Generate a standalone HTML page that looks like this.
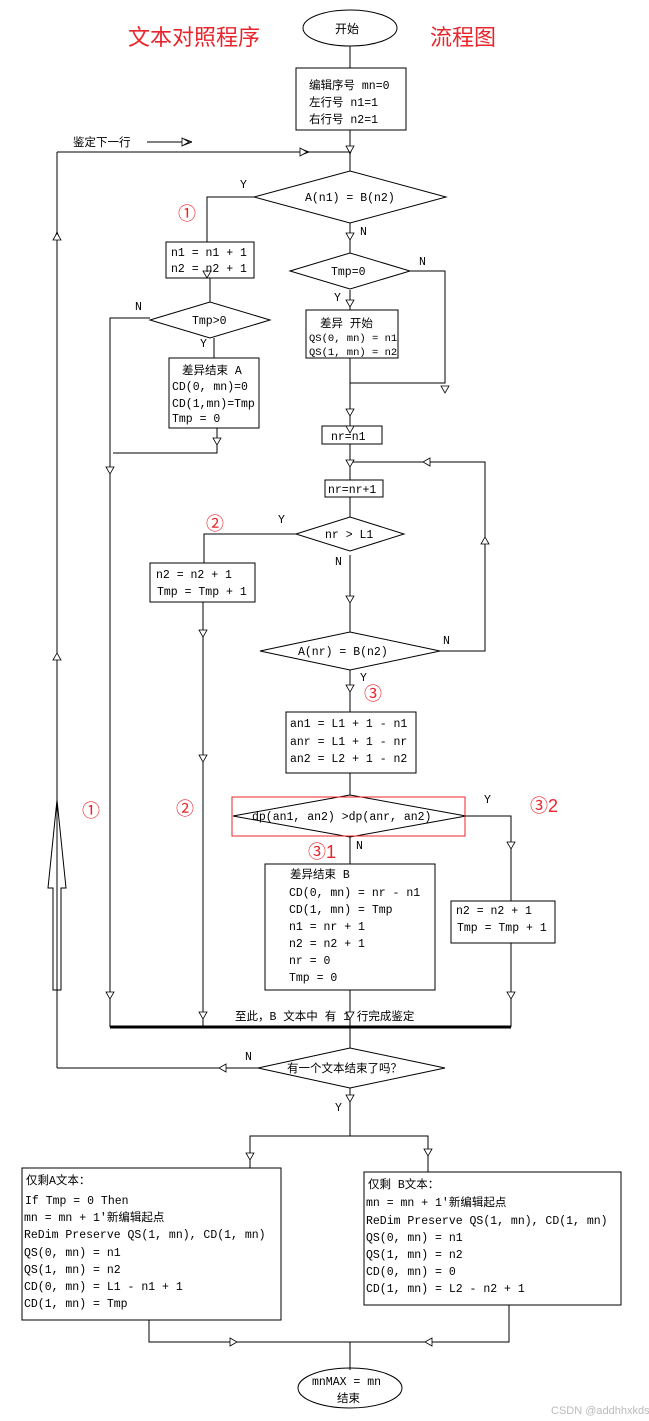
<!DOCTYPE html>
<html><head><meta charset="utf-8">
<style>
html,body{margin:0;padding:0;background:#fff;}
svg{display:block;}
text{font-family:"Liberation Mono","Noto Sans CJK SC",monospace;font-size:11.5px;fill:#000;}
.r{fill:#e8242c;font-family:"Liberation Sans","Noto Sans CJK SC",sans-serif;}
</style></head><body>
<svg width="649" height="1421" viewBox="0 0 649 1421" xmlns="http://www.w3.org/2000/svg">
<defs>
<marker id="a" markerWidth="8" markerHeight="8" refX="4" refY="4" orient="auto" markerUnits="userSpaceOnUse">
<path d="M0,1 L8,4 L0,7 Z" fill="#fff" stroke="#000" stroke-width="1"/></marker>
</defs>
<g stroke="#000" stroke-width="1" fill="none">
<!-- titles area -->
<ellipse cx="350" cy="28" rx="47" ry="18"/>
<line x1="350" y1="46" x2="350" y2="68"/>
<rect x="296" y="68" width="110" height="62"/>
<line x1="350" y1="130" x2="350" y2="171"/>
<path d="M350,130 L350,150" marker-end="url(#a)"/>
<line x1="147" y1="142" x2="190" y2="142"/>
<path d="M147,142 L188,142" marker-end="url(#a)"/>
<line x1="57" y1="1068" x2="57" y2="152"/>
<line x1="57" y1="152" x2="350" y2="152"/>
<path d="M57,152 L305,152" marker-end="url(#a)"/>
<path d="M57,400 L57,236" marker-end="url(#a)"/>
<!-- big hollow arrow -->
<path d="M53,990 L53,888 L48,888 L57,800 L66,888 L61,888 L61,990 Z"/>
<!-- diamond 1 -->
<polygon points="254,197 350,171 446,197 350,223"/>
<polyline points="254,197 207,197 207,242"/>
<path d="M207,200 L207,280" stroke="none"/>
<path d="M207,250 L207,282" stroke="none"/>
<path d="M207,200 L207,278" stroke="none"/>
<path d="M207,215 L207,280" stroke="none"/>
<rect x="166" y="242" width="88" height="36"/>
<line x1="350" y1="223" x2="350" y2="253"/>
<path d="M350,223 L350,306" stroke="none"/>
<path d="M350,290 L350,310" />
<polygon points="290,271 350,253 410,271 350,289"/>
<polyline points="410,271 445,271 445,383 350,383"/>
<path d="M445,300 L445,390" stroke="none"/>
<rect x="306" y="310" width="92" height="48"/>
<line x1="350" y1="358" x2="350" y2="426"/>
<rect x="322" y="426" width="60" height="18"/>
<line x1="350" y1="444" x2="350" y2="480"/>
<polyline points="440,651 485,651 485,462 350,462"/>
<rect x="325" y="480" width="58" height="17"/>
<line x1="350" y1="497" x2="350" y2="517"/>
<polygon points="296,534 350,517 404,534 350,551"/>
<polyline points="296,534 204,534 204,563"/>
<rect x="150" y="563" width="105" height="39"/>
<line x1="350" y1="555" x2="350" y2="632"/>
<polygon points="260,651 350,632 440,651 350,670"/>
<line x1="350" y1="670" x2="350" y2="712"/>
<rect x="286" y="712" width="130" height="61"/>
<line x1="350" y1="773" x2="350" y2="795"/>
<polygon points="233,816 350,795 466,816 350,837"/>
<rect x="232" y="797" width="233" height="39" stroke="#e8242c"/>
<polyline points="466,816 511,816 511,1027"/>
<rect x="451" y="901" width="104" height="42" fill="#fff"/>
<line x1="350" y1="837" x2="350" y2="864"/>
<rect x="265" y="864" width="170" height="126"/>
<line x1="350" y1="990" x2="350" y2="1048"/>
<!-- left column -->
<line x1="210" y1="278" x2="210" y2="302"/>
<polygon points="150,320 210,302 270,320 210,338"/>
<polyline points="150,318 110,318 110,1027"/>
<line x1="214" y1="338" x2="214" y2="358"/>
<rect x="169" y="358" width="90" height="70"/>
<polyline points="217,428 217,453 113,453"/>
<line x1="203" y1="602" x2="203" y2="1027"/>
<line x1="110" y1="1027" x2="511" y2="1027" stroke-width="3"/>
<!-- bottom -->
<polygon points="258,1068 350,1048 445,1068 350,1088"/>
<line x1="258" y1="1068" x2="57" y2="1068"/>
<line x1="350" y1="1088" x2="350" y2="1136"/>
<polyline points="250,1168 250,1136 428,1136 428,1172"/>
<rect x="22" y="1168" width="259" height="152"/>
<rect x="364" y="1172" width="257" height="133"/>
<polyline points="149,1320 149,1342 509,1342 509,1305"/>
<line x1="350" y1="1342" x2="350" y2="1370"/>
<ellipse cx="350" cy="1388" rx="52" ry="20"/>
</g>
<!-- arrow markers (small down triangles) -->
<g fill="#fff" stroke="#000" stroke-width="0.8">
<path d="M346,181 l4,7 l4,-7z" transform="translate(0,-35)"/>
<path d="M203,271 l4,7 l4,-7z"/>
<path d="M346,300 l4,7 l4,-7z"/>
<path d="M346,233 l4,7 l4,-7z"/>
<path d="M346,373 l4,7 l4,-7z" transform="translate(0,36)"/>
<path d="M346,348 l4,7 l4,-7z" transform="translate(0,78)"/>
<path d="M346,460 l4,7 l4,-7z"/>
<path d="M441,386 l4,7 l4,-7z"/>
<path d="M106,467 l4,7 l4,-7z"/>
<path d="M213,438 l4,7 l4,-7z"/>
<path d="M346,596 l4,7 l4,-7z"/>
<path d="M199,630 l4,7 l4,-7z"/>
<path d="M199,755 l4,7 l4,-7z"/>
<path d="M199,1060 l4,7 l4,-7z" transform="translate(0,-48)"/>
<path d="M106,1040 l4,7 l4,-7z" transform="translate(0,-48)"/>
<path d="M346,710 l4,7 l4,-7z" transform="translate(0,-25)"/>
<path d="M507,890 l4,7 l4,-7z" transform="translate(0,-48)"/>
<path d="M507,1040 l4,7 l4,-7z" transform="translate(0,-48)"/>
<path d="M346,1012 l4,7 l4,-7z"/>
<path d="M346,1119 l4,7 l4,-7z" transform="translate(0,-24)"/>
<path d="M246,1177 l4,7 l4,-7z" transform="translate(0,-24)"/>
<path d="M424,1173 l4,7 l4,-7z" transform="translate(0,-24)"/>
<path d="M481,544 l4,-7 l4,7z"/>
<path d="M53,240 l4,-7 l4,7z"/>
<path d="M53,660 l4,-7 l4,7z"/>
<path d="M430,458 l-7,4 l7,4z"/>
<path d="M230,1338 l7,4 l-7,4z"/>
<path d="M432,1338 l-7,4 l7,4z"/>
<path d="M226,1064 l-7,4 l7,4z"/>
<path d="M300,148 l7,4 l-7,4z"/>
<path d="M182,138 l7,4 l-7,4z"/>
</g>
<!-- titles -->
<text x="128" y="45" class="r" style="font-size:22px">文本对照程序</text>
<text x="430" y="45" class="r" style="font-size:22px">流程图</text>
<text x="335" y="33" style="font-size:12px">开始</text>
<text x="309" y="89">编辑序号 mn=0</text>
<text x="309" y="106">左行号 n1=1</text>
<text x="309" y="123">右行号 n2=1</text>
<text x="73" y="146">鉴定下一行</text>
<text x="305" y="201">A(n1) = B(n2)</text>
<text x="240" y="188">Y</text>
<text x="178" y="220" class="r" style="font-size:18px">①</text>
<text x="360" y="235">N</text>
<text x="171" y="256">n1 = n1 + 1</text>
<text x="171" y="272">n2 = n2 + 1</text>
<text x="331" y="275">Tmp=0</text>
<text x="419" y="265">N</text>
<text x="334" y="301">Y</text>
<text x="320" y="327">差异 开始</text>
<text x="309" y="341" style="font-size:10.5px">QS(0, mn) = n1</text>
<text x="309" y="355" style="font-size:10.5px">QS(1, mn) = n2</text>
<text x="192" y="324">Tmp&gt;0</text>
<text x="135" y="310">N</text>
<text x="200" y="347">Y</text>
<text x="182" y="374">差异结束 A</text>
<text x="172" y="390">CD(0, mn)=0</text>
<text x="172" y="407">CD(1,mn)=Tmp</text>
<text x="172" y="422">Tmp = 0</text>
<text x="331" y="440">nr=n1</text>
<text x="328" y="493">nr=nr+1</text>
<text x="325" y="538">nr &gt; L1</text>
<text x="278" y="523">Y</text>
<text x="206" y="530" class="r" style="font-size:18px">②</text>
<text x="335" y="565">N</text>
<text x="156" y="578">n2 = n2 + 1</text>
<text x="157" y="595">Tmp = Tmp + 1</text>
<text x="298" y="655">A(nr) = B(n2)</text>
<text x="443" y="644">N</text>
<text x="360" y="681">Y</text>
<text x="364" y="700" class="r" style="font-size:18px">③</text>
<text x="290" y="727">an1 = L1 + 1 - n1</text>
<text x="290" y="745">anr = L1 + 1 - nr</text>
<text x="290" y="762">an2 = L2 + 1 - n2</text>
<text x="252" y="820">dp(an1, an2) &gt;dp(anr, an2)</text>
<text x="484" y="803">Y</text>
<text x="530" y="812" class="r" style="font-size:18px">③2</text>
<text x="308" y="858" class="r" style="font-size:18px">③1</text>
<text x="356" y="849">N</text>
<text x="290" y="878">差异结束 B</text>
<text x="289" y="896">CD(0, mn) = nr - n1</text>
<text x="289" y="913">CD(1, mn) = Tmp</text>
<text x="289" y="930">n1 = nr + 1</text>
<text x="289" y="947">n2 = n2 + 1</text>
<text x="289" y="964">nr = 0</text>
<text x="289" y="981">Tmp = 0</text>
<text x="456" y="914">n2 = n2 + 1</text>
<text x="457" y="931">Tmp = Tmp + 1</text>
<text x="82" y="817" class="r" style="font-size:18px">①</text>
<text x="176" y="815" class="r" style="font-size:18px">②</text>
<text x="235" y="1020">至此，B 文本中 有 1 行完成鉴定</text>
<text x="287" y="1072">有一个文本结束了吗？</text>
<text x="245" y="1060">N</text>
<text x="335" y="1111">Y</text>
<text x="26" y="1184">仅剩A文本：</text>
<text x="25" y="1204">If Tmp = 0 Then</text>
<text x="24" y="1221">mn = mn + 1'新编辑起点</text>
<text x="24" y="1238">ReDim Preserve QS(1, mn), CD(1, mn)</text>
<text x="24" y="1256">QS(0, mn) = n1</text>
<text x="24" y="1273">QS(1, mn) = n2</text>
<text x="24" y="1290">CD(0, mn) = L1 - n1 + 1</text>
<text x="24" y="1307">CD(1, mn) = Tmp</text>
<text x="368" y="1188">仅剩 B文本：</text>
<text x="366" y="1206">mn = mn + 1'新编辑起点</text>
<text x="366" y="1224">ReDim Preserve QS(1, mn), CD(1, mn)</text>
<text x="366" y="1241">QS(0, mn) = n1</text>
<text x="366" y="1258">QS(1, mn) = n2</text>
<text x="366" y="1275">CD(0, mn) = 0</text>
<text x="366" y="1292">CD(1, mn) = L2 - n2 + 1</text>
<text x="312" y="1385">mnMAX = mn</text>
<text x="337" y="1402">结束</text>
<text x="551" y="1414" style="font-family:'Liberation Sans',sans-serif;font-size:11px;fill:#bbb">CSDN @addhhxkds</text>
</svg>
</body></html>
